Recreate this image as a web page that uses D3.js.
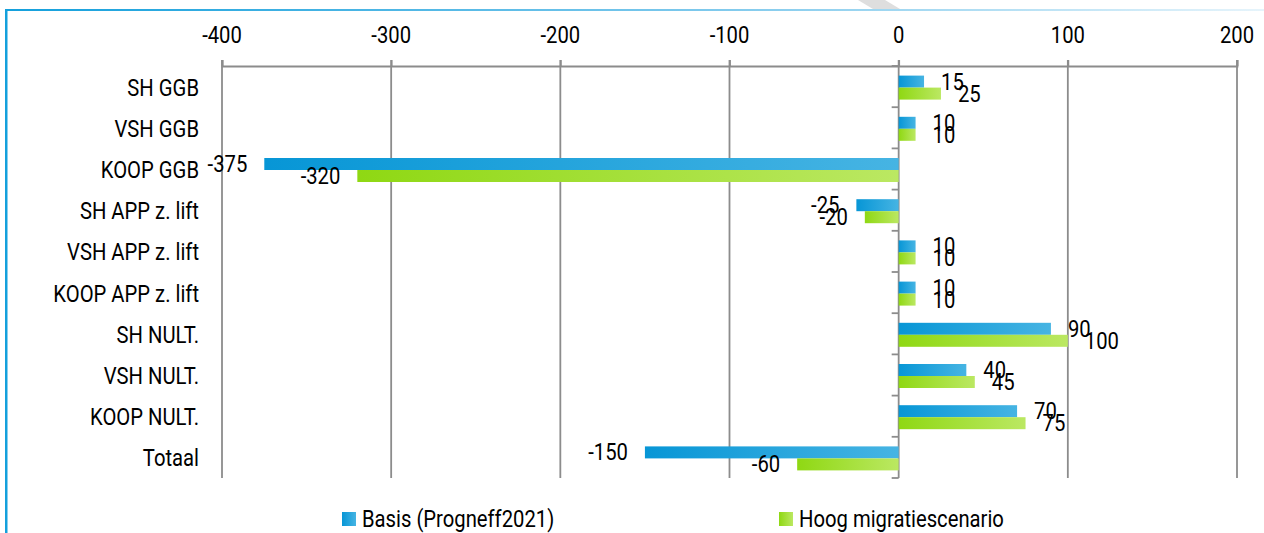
<!DOCTYPE html>
<html lang="nl">
<head>
  <meta charset="UTF-8" />
  <title>Mutaties woningvoorraad</title>
  <script src="https://d3js.org/d3.v7.min.js"></script>
  <style>
    body { margin: 0; background: #fff; }
    svg text { font-family: "Roboto", sans-serif; fill: #000; }
  </style>
</head>
<body>
  <svg width="1264" height="533" id="chart"></svg>

  <script>
    const categories = ["SH GGB", "VSH GGB", "KOOP GGB", "SH APP z. lift", "VSH APP z. lift",
      "KOOP APP z. lift", "SH NULT.", "VSH NULT.", "KOOP NULT.", "Totaal"];
    const basis = [15, 10, -375, -25, 10, 10, 90, 40, 70, -150];
    const hoog = [25, 10, -320, -20, 10, 10, 100, 45, 75, -60];
    const seriesNames = ["Basis (Progneff2021)", "Hoog migratiescenario"];
    const xTicks = [-400, -300, -200, -100, 0, 100, 200];

    const svg = d3.select("#chart");
    const fontSize = 23;
    const squeeze = 0.88; // condensed look

    // text helper: squeezed horizontally around its anchor point
    function label(parent, px, py, str, anchor) {
      return parent.append("text")
        .attr("transform", `translate(${px},${py}) scale(${squeeze},1)`)
        .attr("text-anchor", anchor || "start")
        .attr("dominant-baseline", "central")
        .attr("font-size", fontSize)
        .text(str);
    }

    // frame
    const defs = svg.append("defs");
    const topGrad = defs.append("linearGradient").attr("id", "topLine");
    topGrad.append("stop").attr("offset", "0%").attr("stop-color", "#14a0dc");
    topGrad.append("stop").attr("offset", "55%").attr("stop-color", "#7cc8ec");
    topGrad.append("stop").attr("offset", "100%").attr("stop-color", "#e6f4fb");
    svg.append("rect").attr("x", 5).attr("y", 9).attr("width", 1259).attr("height", 2).attr("fill", "url(#topLine)");
    svg.append("rect").attr("x", 5).attr("y", 9).attr("width", 2.5).attr("height", 524).attr("fill", "#14a0dc");
    svg.append("polygon").attr("points", "858,0 885,0 900,9 873,9").attr("fill", "#dedede");

    const grads = [["gBlue", "#0796d6", "#46b4e3"], ["gGreen", "#8fd813", "#bbe862"]];
    grads.forEach(([id, c0, c1]) => {
      const g = defs.append("linearGradient").attr("id", id);
      g.append("stop").attr("offset", "0%").attr("stop-color", c0);
      g.append("stop").attr("offset", "100%").attr("stop-color", c1);
    });

    const x = d3.scaleLinear().domain([-400, 200]).range([222, 1237]);
    const y = d3.scaleBand().domain(categories).range([66, 478]);

    // grid lines
    svg.append("g").selectAll("line").data(xTicks).enter().append("line")
      .attr("x1", d => x(d)).attr("x2", d => x(d))
      .attr("y1", 60).attr("y2", 478)
      .attr("stroke", "#8c8c8c").attr("stroke-width", 1.8);

    // top axis
    const xAxis = svg.append("g").attr("transform", "translate(0,66)")
      .call(d3.axisTop(x).tickValues(xTicks).tickSize(6).tickFormat(() => ""));
    xAxis.select(".domain").attr("stroke", "#8c8c8c").attr("stroke-width", 1.8);
    xAxis.selectAll(".tick line").attr("stroke", "#8c8c8c").attr("stroke-width", 1.8);
    const tickG = svg.append("g");
    xTicks.forEach(t => label(tickG, x(t), 35, String(t), "middle"));

    // zero axis with category ticks
    const boundaries = d3.range(categories.length + 1).map(i => 66 + i * y.step());
    svg.append("g").selectAll("line").data(boundaries).enter().append("line")
      .attr("x1", x(0) - 7).attr("x2", x(0))
      .attr("y1", d => d).attr("y2", d => d)
      .attr("stroke", "#8c8c8c").attr("stroke-width", 1.8);

    // category labels
    const catG = svg.append("g");
    categories.forEach(c => label(catG, 199, y(c) + y.bandwidth() / 2 + 1, c, "end"));

    // bars
    const barH = 12;
    const series = [basis, hoog];
    series.forEach((vals, s) => {
      const g = svg.append("g");
      const rows = vals.map((v, i) => ({ v, c: categories[i] }));
      g.selectAll("rect").data(rows).enter().append("rect")
        .attr("x", d => x(Math.min(0, d.v)))
        .attr("width", d => Math.abs(x(d.v) - x(0)))
        .attr("y", d => y(d.c) + y.bandwidth() / 2 - barH + 1 + s * barH)
        .attr("height", barH)
        .attr("fill", `url(#${grads[s][0]})`);
      rows.forEach(d => {
        const ly = y(d.c) + y.bandwidth() / 2 - barH / 2 + 1 + s * barH;
        if (d.v >= 0) label(g, x(d.v) + 17, ly, String(d.v), "start");
        else label(g, x(d.v) - 17, ly, String(d.v), "end");
      });
    });

    // legend
    const legendX = [342, 779];
    const legG = svg.append("g");
    seriesNames.forEach((name, s) => {
      legG.append("rect").attr("x", legendX[s]).attr("y", 512).attr("width", 14).attr("height", 14)
        .attr("fill", `url(#${grads[s][0]})`);
      label(legG, legendX[s] + 20, 519, name, "start");
    });
  </script>
</body>
</html>
